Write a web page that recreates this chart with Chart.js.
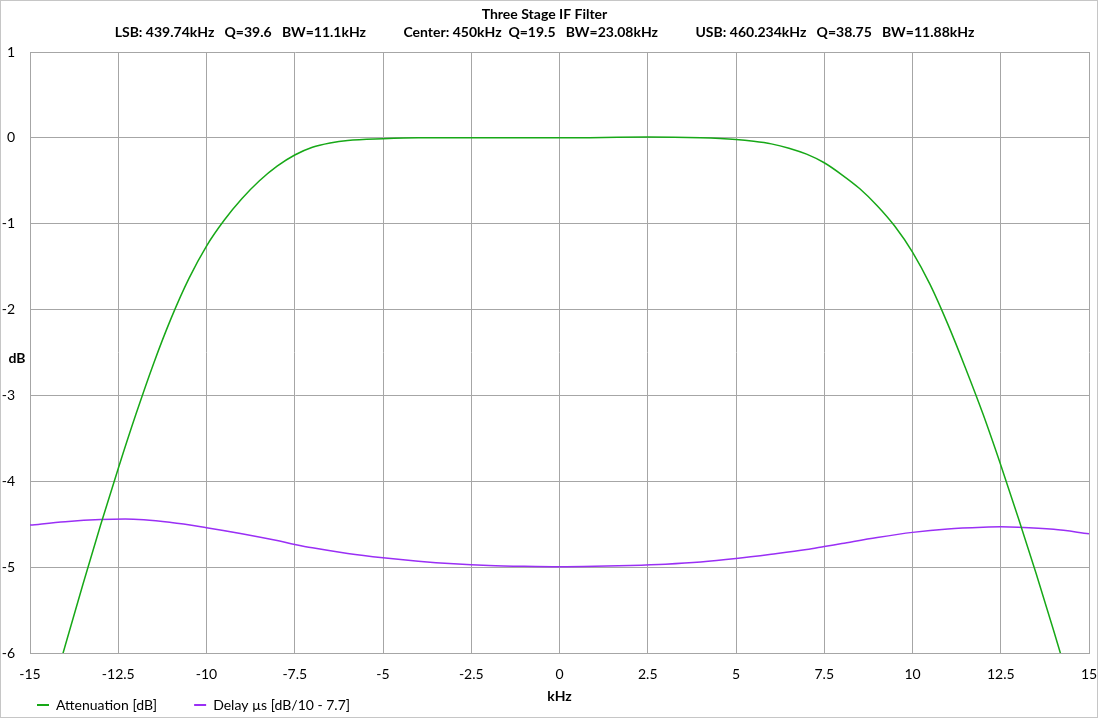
<!DOCTYPE html>
<html>
<head>
<meta charset="utf-8">
<script src="https://cdn.jsdelivr.net/npm/chart.js@4.4.1/dist/chart.umd.min.js"></script>
<style>
html,body{margin:0;padding:0;background:#fff;}
#wrap{width:1105px;height:719px;position:relative;}
</style>
</head>
<body>
<div id="wrap"><canvas id="c" width="1105" height="719"></canvas></div>
<script>
// ---- data ----
const titleLines = [
  'Three Stage IF Filter',
  'LSB: 439.74kHz   Q=39.6   BW=11.1kHz           Center: 450kHz  Q=19.5   BW=23.08kHz           USB: 460.234kHz   Q=38.75   BW=11.88kHz'
];
const xAxisLabel = 'kHz';
const yAxisLabel = 'dB';
const seriesNames = ['Attenuation [dB]', 'Delay µs [dB/10 - 7.7]'];

const attenKHz = [-15,-14.5,-14,-13.5,-13,-12.5,-12,-11.5,-11,-10.5,-10,-9.5,-9,-8.5,-8,-7.5,-7,-6.5,-6,-5,-4,-2.5,0,2.5,4,5,5.5,6,6.5,7,7.5,8,8.5,9,9.5,10,10.5,11,11.5,12,12.5,13,13.5,14,14.5,15];
const attenDB  = [-7.35,-6.63,-5.91,-5.2,-4.51,-3.85,-3.22,-2.63,-2.1,-1.64,-1.26,-0.96,-0.71,-0.5,-0.33,-0.2,-0.11,-0.06,-0.03,-0.01,0,0,0,0.01,0,-0.02,-0.04,-0.07,-0.12,-0.19,-0.29,-0.43,-0.59,-0.79,-1.03,-1.33,-1.71,-2.17,-2.68,-3.22,-3.81,-4.43,-5.07,-5.74,-6.43,-7.13];

const delayKHz = [-15,-14,-13,-12.3,-11,-10,-9,-8,-7.5,-7,-6,-5,-4,-3,-2,-1,0,1,2,3,4,5,6,7,7.5,8,9,10,11,12,12.5,13,14,15];
const delayDB  = [-4.51,-4.47,-4.445,-4.44,-4.48,-4.54,-4.61,-4.69,-4.735,-4.775,-4.84,-4.89,-4.93,-4.96,-4.98,-4.99,-4.995,-4.99,-4.98,-4.965,-4.94,-4.90,-4.85,-4.795,-4.76,-4.725,-4.655,-4.595,-4.555,-4.535,-4.53,-4.535,-4.56,-4.61];

const xMin = -15, xMax = 15, xStep = 2.5;
const yMin = -6, yMax = 1, yStep = 1;

// ---- build ----
const toPts = (xs, ys) => xs.map((x, i) => ({x: x, y: ys[i]}));
const FONT = 'Lato, "Open Sans", sans-serif';
const GRID = '#a6a6a6';

const extras = {
  id: 'extras',
  beforeDraw(chart) {
    const ctx = chart.ctx;
    ctx.save();
    ctx.fillStyle = '#fff';
    ctx.fillRect(0, 0, chart.width, chart.height);
    ctx.strokeStyle = '#c6c6c6';
    ctx.lineWidth = 1;
    ctx.strokeRect(0.5, 0.5, 1097, 717);
    ctx.restore();
  },
  afterDraw(chart) {
    const ctx = chart.ctx;
    ctx.save();
    ctx.font = 'bold 14px ' + FONT;
    ctx.fillStyle = '#000';
    ctx.textAlign = 'center';
    ctx.textBaseline = 'middle';
    ctx.fillText(yAxisLabel, 17, 358);
    ctx.restore();
  }
};

new Chart(document.getElementById('c'), {
  type: 'scatter',
  data: {
    datasets: [
      {
        label: seriesNames[0],
        data: toPts(attenKHz, attenDB),
        showLine: true,
        borderColor: '#17a817',
        backgroundColor: '#17a817',
        borderWidth: 1.5,
        pointRadius: 0,
        cubicInterpolationMode: 'monotone'
      },
      {
        label: seriesNames[1],
        data: toPts(delayKHz, delayDB),
        showLine: true,
        borderColor: '#9a2ff5',
        backgroundColor: '#9a2ff5',
        borderWidth: 1.5,
        pointRadius: 0,
        cubicInterpolationMode: 'monotone'
      }
    ]
  },
  options: {
    responsive: false,
    animation: false,
    devicePixelRatio: 1,
    layout: { padding: { left: 0, right: 16, top: 0, bottom: -3 } },
    plugins: {
      tooltip: { enabled: false },
      title: {
        display: true,
        text: titleLines,
        color: '#000',
        font: { family: FONT, size: 14, weight: 'bold', lineHeight: 1.25 },
        padding: { top: 6, bottom: 11 }
      },
      legend: {
        position: 'bottom',
        align: 'start',
        labels: {
          color: '#000',
          font: { family: FONT, size: 14 },
          boxWidth: 12,
          boxHeight: 2,
          padding: 37,
          generateLabels(chart) {
            const items = Chart.defaults.plugins.legend.labels.generateLabels(chart);
            items.forEach(it => { it.lineWidth = 0; });
            return items;
          }
        }
      }
    },
    scales: {
      x: {
        type: 'linear',
        min: xMin, max: xMax,
        afterFit(scale) { scale.height = 8; },
        ticks: {
          stepSize: xStep,
          color: '#000',
          font: { family: FONT, size: 14 },
          mirror: true,
          padding: -30,
          maxRotation: 0,
          autoSkip: false
        },
        grid: { color: GRID, lineWidth: 1, drawTicks: false },
        border: { display: true, color: GRID, width: 1 },
        title: {
          display: true,
          text: xAxisLabel,
          color: '#000',
          font: { family: FONT, size: 14, weight: 'bold' },
          padding: { top: 0, bottom: -44 }
        }
      },
      y: {
        type: 'linear',
        min: yMin, max: yMax,
        afterFit(scale) { scale.width = 30; },
        ticks: {
          stepSize: yStep,
          color: '#000',
          font: { family: FONT, size: 14 },
          padding: 15
        },
        grid: { color: GRID, lineWidth: 1, drawTicks: false },
        border: { display: true, color: GRID, width: 1 }
      }
    }
  },
  plugins: [extras]
});
</script>
</body>
</html>
